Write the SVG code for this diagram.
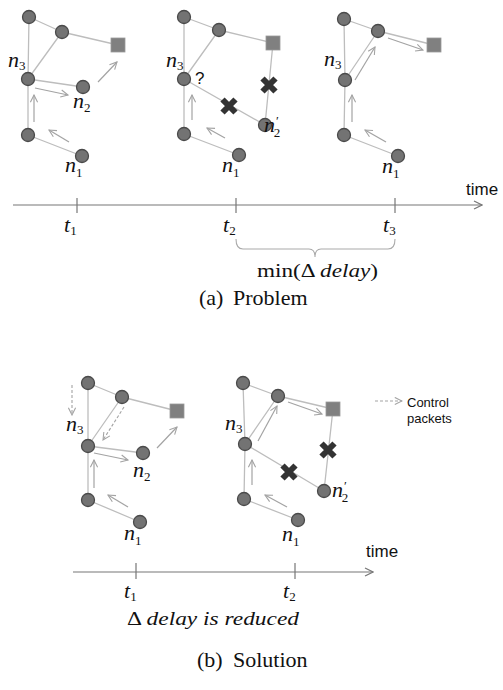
<svg xmlns="http://www.w3.org/2000/svg" width="503" height="690" viewBox="0 0 503 690">
<defs>
<style>
.e{stroke:#bdbdbd;stroke-width:1.3;fill:none}
.a{stroke:#a3a3a3;stroke-width:1.2;fill:none;marker-end:url(#ah)}
.d{stroke:#a3a3a3;stroke-width:1.1;fill:none;stroke-dasharray:3,2;marker-end:url(#ah)}
.n{fill:#737373;stroke:#4a4a4a;stroke-width:1.3}
.sq{fill:#808080;stroke:#9a9a9a;stroke-width:0.8}
.x{stroke:#333;stroke-width:6}
.m{font-family:"Liberation Serif","DejaVu Serif",serif;font-style:italic;font-size:22px;fill:#111}
.s{font-family:"Liberation Serif","DejaVu Serif",serif;font-style:normal;font-size:13px;fill:#111}
.sans{font-family:"Liberation Sans","DejaVu Sans",sans-serif;fill:#111}
.ax{stroke:#777;stroke-width:1.2;fill:none}
.cap{font-family:"Liberation Serif","Times New Roman",serif;font-size:22px;fill:#111}
.t{font-family:"Liberation Serif","DejaVu Serif",serif;font-size:19px;fill:#111}
</style>
<marker id="ah" viewBox="0 0 10 10" refX="9" refY="5" markerWidth="9" markerHeight="9" markerUnits="userSpaceOnUse" orient="auto"><path d="M1,1 L9,5 L1,9" fill="none" stroke="#a3a3a3" stroke-width="1.2"/></marker>
<marker id="axh" viewBox="0 0 10 10" refX="9" refY="5" markerWidth="10" markerHeight="10" markerUnits="userSpaceOnUse" orient="auto"><path d="M1,1 L9,5 L1,9" fill="none" stroke="#777" stroke-width="1.2"/></marker>
<path id="xm" class="x" d="M-6.5,-6.5 L6.5,6.5 M6.5,-6.5 L-6.5,6.5"/>
</defs>
<rect width="503" height="690" fill="#fff"/>

<g id="connectors">
<path class="e" d="M29,17 L28,79 M29,17 L62,32 M62,32 L118,45 M62,32 L28,79 M28,79 L83,87 M28,79 L28,135 M28,135 L82,156"/>
<path class="a" d="M34,122 L34,95"/>
<path class="a" d="M69,142 L49,130"/>
<path class="a" d="M35,88 L68,95"/>
<path class="a" d="M98,82 L117,62"/>
<path class="e" d="M184,17 L184,79 M184,17 L219,30 M219,30 L273,43 M219,30 L184,79 M184,79 L265,125 M273,43 L265,125 M184,79 L184,134 M184,134 L239,155"/>
<path class="a" d="M192,120 L192,95"/>
<path class="a" d="M225,138 L207,128"/>
<path class="e" d="M344,19 L345,80 M344,19 L378,31 M378,31 L434,45 M378,31 L345,80 M345,80 L344,135 M344,135 L398,156"/>
<path class="a" d="M355,80 L375,47"/>
<path class="a" d="M388,38 L423,50"/>
<path class="a" d="M352,122 L352,95"/>
<path class="a" d="M386,142 L365,130"/>
<path class="e" d="M88,383 L88,446 M88,383 L122,397 M122,397 L177,411 M122,397 L88,446 M88,446 L143,453 M88,446 L88,500 M88,500 L140,522"/>
<path class="d" d="M72,385 L72,415"/>
<path class="d" d="M124,407 L103,440"/>
<path class="a" d="M94,453 L128,460"/>
<path class="a" d="M157,448 L177,427"/>
<path class="a" d="M94,488 L94,460"/>
<path class="a" d="M128,507 L108,495"/>
<path class="e" d="M243,383 L245,444 M243,383 L278,396 M278,396 L333,409 M278,396 L245,444 M245,444 L324,491 M333,409 L324,491 M245,444 L244,499 M244,499 L298,520"/>
<path class="a" d="M258,441 L277,406"/>
<path class="a" d="M288,402 L322,414"/>
<path class="a" d="M252,485 L252,460"/>
<path class="a" d="M287,507 L265,495"/>
<path class="d" d="M375,401 L402,401"/>
</g>

<g id="panel-a1">
<circle class="n" cx="29" cy="17" r="6.5"/>
<circle class="n" cx="62" cy="32" r="6.5"/>
<rect class="sq" x="111" y="38" width="14" height="14"/>
<circle class="n" cx="28" cy="79" r="6.5"/>
<circle class="n" cx="83" cy="87" r="6.5"/>
<circle class="n" cx="28" cy="135" r="6.5"/>
<circle class="n" cx="82" cy="156" r="6.5"/>
<text class="m" x="8" y="67">n<tspan class="s" dy="3">3</tspan></text>
<text class="m" x="73" y="108">n<tspan class="s" dy="4">2</tspan></text>
<text class="m" x="65" y="172">n<tspan class="s" dy="5">1</tspan></text>
</g>

<g id="panel-a2">
<circle class="n" cx="184" cy="17" r="6.5"/>
<circle class="n" cx="219" cy="30" r="6.5"/>
<rect class="sq" x="266" y="36" width="14" height="14"/>
<circle class="n" cx="184" cy="79" r="6.5"/>
<circle class="n" cx="265" cy="125" r="6.5"/>
<circle class="n" cx="184" cy="134" r="6.5"/>
<circle class="n" cx="239" cy="155" r="6.5"/>
<use href="#xm" x="229" y="106"/>
<use href="#xm" x="269" y="85"/>
<text class="m" x="166" y="67">n<tspan class="s" dy="3">3</tspan></text>
<text class="sans" x="195" y="84" font-size="17">?</text>
<text class="m" x="264" y="132">n<tspan class="s" font-size="15" dx="1" dy="-7">′</tspan><tspan class="s" dx="-5" dy="12">2</tspan></text>
<text class="m" x="222" y="172">n<tspan class="s" dy="5">1</tspan></text>
</g>

<g id="panel-a3">
<circle class="n" cx="344" cy="19" r="6.5"/>
<circle class="n" cx="378" cy="31" r="6.5"/>
<rect class="sq" x="427" y="38" width="14" height="14"/>
<circle class="n" cx="345" cy="80" r="6.5"/>
<circle class="n" cx="344" cy="135" r="6.5"/>
<circle class="n" cx="398" cy="156" r="6.5"/>
<text class="m" x="324" y="66">n<tspan class="s" dy="3">3</tspan></text>
<text class="m" x="382" y="173">n<tspan class="s" dy="5">1</tspan></text>
</g>

<g id="timeline-a">
<path class="ax" d="M13,205 L482,205" marker-end="url(#axh)"/>
<path class="ax" d="M77,198 V213 M236,198 V213 M395,198 V213"/>
<text class="sans" x="466" y="195" font-size="17">time</text>
<text class="m" x="64" y="232" font-size="19">t<tspan class="s" dy="3" font-size="14">1</tspan></text>
<text class="m" x="223" y="232" font-size="19">t<tspan class="s" dy="3" font-size="14">2</tspan></text>
<text class="m" x="383" y="232" font-size="19">t<tspan class="s" dy="3" font-size="14">3</tspan></text>
<path d="M236,239 Q236,249 243,249 L309,249 Q315,249 315,257 Q315,249 321,249 L388,249 Q395,249 395,239" fill="none" stroke="#aaa" stroke-width="1.1"/>
<text class="t" x="257" y="277" textLength="121" lengthAdjust="spacingAndGlyphs">min(Δ <tspan font-style="italic">delay</tspan>)</text>
<text class="cap" x="199" y="305">(a)</text>
<text class="cap" x="233" y="305">Problem</text>
</g>

<g id="panel-b1">
<circle class="n" cx="88" cy="383" r="6.5"/>
<circle class="n" cx="122" cy="397" r="6.5"/>
<rect class="sq" x="170" y="404" width="14" height="14"/>
<circle class="n" cx="88" cy="446" r="6.5"/>
<circle class="n" cx="143" cy="453" r="6.5"/>
<circle class="n" cx="88" cy="500" r="6.5"/>
<circle class="n" cx="140" cy="522" r="6.5"/>
<text class="m" x="66" y="431">n<tspan class="s" dy="3">3</tspan></text>
<text class="m" x="133" y="477">n<tspan class="s" dy="4">2</tspan></text>
<text class="m" x="124" y="540">n<tspan class="s" dy="5">1</tspan></text>
</g>

<g id="panel-b2">
<circle class="n" cx="243" cy="383" r="6.5"/>
<circle class="n" cx="278" cy="396" r="6.5"/>
<rect class="sq" x="326" y="402" width="14" height="14"/>
<circle class="n" cx="245" cy="444" r="6.5"/>
<circle class="n" cx="324" cy="491" r="6.5"/>
<circle class="n" cx="244" cy="499" r="6.5"/>
<circle class="n" cx="298" cy="520" r="6.5"/>
<use href="#xm" x="289" y="472"/>
<use href="#xm" x="328" y="450"/>
<text class="m" x="225" y="430">n<tspan class="s" dy="3">3</tspan></text>
<text class="m" x="332" y="497">n<tspan class="s" font-size="15" dx="1" dy="-7">′</tspan><tspan class="s" dx="-5" dy="12">2</tspan></text>
<text class="m" x="282" y="541">n<tspan class="s" dy="5">1</tspan></text>
</g>

<g id="legend">
<text class="sans" x="407" y="407" font-size="13">Control</text>
<text class="sans" x="407" y="423" font-size="13">packets</text>
</g>

<g id="timeline-b">
<path class="ax" d="M73,572 L373,572" marker-end="url(#axh)"/>
<path class="ax" d="M136,563 V579 M295,563 V579"/>
<text class="sans" x="366" y="557" font-size="17">time</text>
<text class="m" x="124" y="598" font-size="19">t<tspan class="s" dy="3" font-size="14">1</tspan></text>
<text class="m" x="283" y="598" font-size="19">t<tspan class="s" dy="3" font-size="14">2</tspan></text>
<text class="t" x="127" y="625" textLength="172" lengthAdjust="spacingAndGlyphs">Δ <tspan font-style="italic">delay is reduced</tspan></text>
<text class="cap" x="197" y="667">(b)</text>
<text class="cap" x="233" y="667">Solution</text>
</g>
</svg>
